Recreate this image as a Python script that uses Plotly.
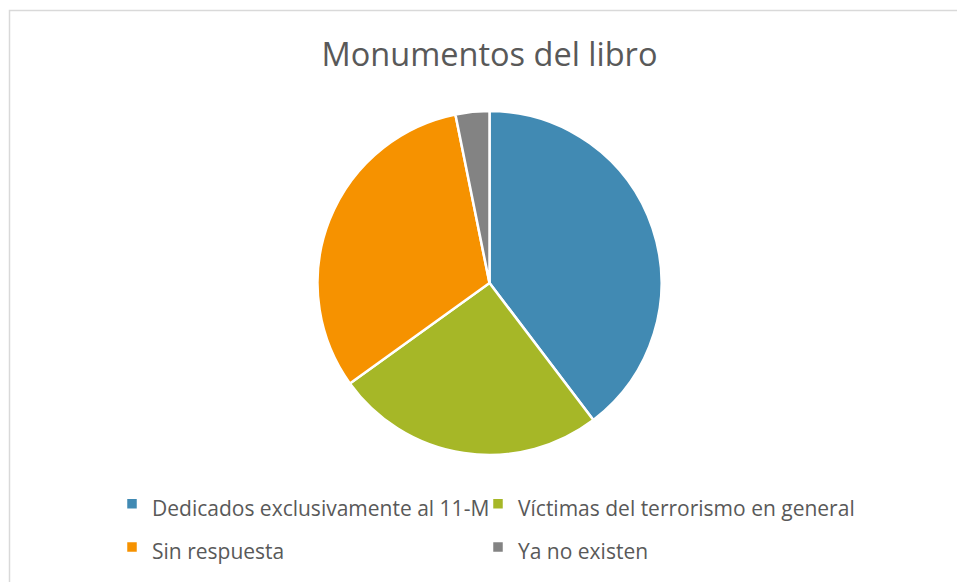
import plotly.graph_objects as go

labels = ["Dedicados exclusivamente al 11-M", "Víctimas del terrorismo en general",
          "Sin respuesta", "Ya no existen"]
values = [25, 16, 20, 2]
colors = ["#418AB3", "#A6B727", "#F69200", "#838383"]

W, H = 957, 582
TXT = "#595959"
FONT = "Open Sans"
LEG_SIZE = 21

legend_text = [f'<span style="font-size:{LEG_SIZE}px">{t}</span>' for t in labels]

fig = go.Figure(go.Pie(
    labels=legend_text, values=values, sort=False, direction="clockwise", rotation=0,
    customdata=labels, hovertemplate="%{customdata}: %{percent}<extra></extra>",
    marker=dict(colors=colors, line=dict(color="white", width=2.5)),
    textinfo="none",
    domain=dict(x=[317.5 / W, 661.5 / W], y=[1 - 455 / H, 1 - 111 / H]),
))

fig.update_layout(
    width=W, height=H,
    margin=dict(l=0, r=0, t=0, b=0),
    paper_bgcolor="white",
    font=dict(family=FONT, color=TXT),
    title=dict(text="Monumentos del libro", x=489.5 / W, xanchor="center",
               y=1 - 55 / H, yanchor="middle",
               font=dict(family=FONT, size=32.5, color=TXT)),
    legend=dict(orientation="h", x=112 / W, xanchor="left", y=1 - 477 / H, yanchor="top",
                entrywidth=321, entrywidthmode="pixels", itemwidth=30,
                font=dict(family=FONT, size=31, color=TXT), traceorder="normal"),
    shapes=[dict(type="rect", xref="paper", yref="paper",
                 x0=9.5 / W, x1=1.02, y0=-0.02, y1=1 - 10.5 / H,
                 line=dict(color="#D9D9D9", width=1.5), layer="below")],
)

post = (
    "document.body.style.margin='0';document.body.style.overflow='hidden';"
    "var s=document.createElement('style');"
    "s.textContent='.legend .scrollbox{clip-path:none !important;}';"
    "document.head.appendChild(s);"
)
fig.write_html("out.html", config={"displayModeBar": False}, post_script=post)
